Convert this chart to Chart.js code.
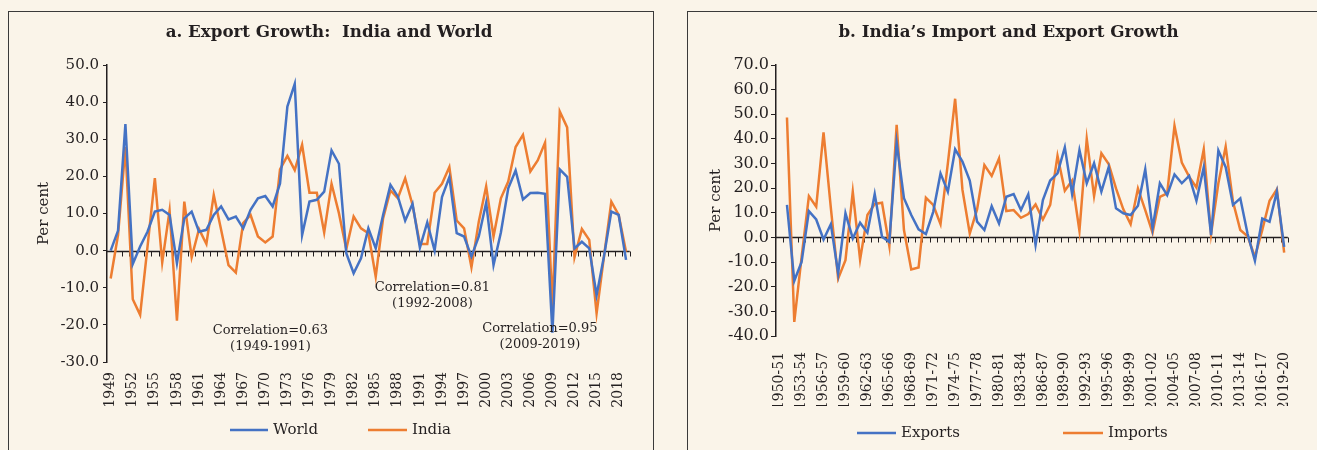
<!DOCTYPE html>
<html>
<head>
<meta charset="utf-8">
<title>Export Growth</title>
<script src="https://cdn.jsdelivr.net/npm/chart.js@4.4.0/dist/chart.umd.min.js"></script>
<style>
  html, body { margin: 0; padding: 0; background: #FAF4E9; }
  body { width: 1317px; height: 450px; position: relative; overflow: hidden; }
  .marco { position: absolute; top: 11px; height: 460px; border: 1.5px solid #3a3a3a; box-sizing: border-box; }
  #marcoA { left: 8px; width: 646px; }
  #marcoB { left: 687px; width: 660px; }
  canvas { position: absolute; top: 11px; }
  #graficaA { left: 8px; }
  #graficaB { left: 687px; }
</style>
</head>
<body>
<div class="marco" id="marcoA"></div>
<div class="marco" id="marcoB"></div>
<canvas id="graficaA" width="645" height="439"></canvas>
<canvas id="graficaB" width="630" height="439"></canvas>
<script>
// ---- Datos panel a: crecimiento de exportaciones, India y Mundo (%), 1949-2019
const anios = Array.from({ length: 71 }, (_, i) => String(1949 + i));
const mundo = [0.0, 5.4, 34.1, -3.6, 1.1, 5.1, 10.5, 11.0, 9.6, -3.4, 8.7, 10.5, 5.1, 5.6, 9.6, 11.9, 8.4, 9.2, 6.0, 11.0,
  14.1, 14.7, 11.9, 18.1, 38.8, 44.9, 4.2, 13.2, 13.7, 15.9, 27.0, 23.4, -0.7, -6.1, -2.1, 6.0, 0.6, 9.6, 17.7, 14.6,
  8.1, 12.6, 0.8, 7.6, 0.0, 14.4, 19.8, 4.7, 3.8, -1.6, 3.8, 12.9, -3.9, 4.9, 16.8, 21.6, 13.8, 15.5, 15.6, 15.3,
  -22.1, 21.9, 19.9, 0.6, 2.4, 0.6, -12.0, -1.6, 10.5, 9.6, -2.5];
const india = [-7.5, 4.2, 27.9, -13.1, -17.3, 1.0, 19.5, -3.2, 10.8, -18.9, 13.2, -1.8, 5.8, 1.8, 15.0, 5.6, -3.9, -5.9, 7.4, 9.6,
  3.8, 2.2, 3.8, 21.9, 25.5, 21.7, 28.5, 15.6, 15.6, 4.9, 18.0, 10.1, 0.4, 9.2, 6.0, 4.7, -7.0, 8.7, 16.2, 14.1,
  19.5, 12.3, 1.8, 1.8, 15.6, 18.0, 22.5, 8.1, 6.0, -4.5, 7.8, 17.3, 3.8, 14.1, 18.6, 27.9, 31.2, 21.3, 24.3, 29.1,
  -15.3, 37.5, 33.2, -1.8, 5.8, 2.9, -16.9, -1.6, 13.2, 9.6, -0.3];
const ticksA = { min: -30, max: 50, paso: 10 };

// ---- Datos panel b: crecimiento de importaciones y exportaciones de India (%), 1950-51 a 2019-20
const aniosFiscales = Array.from({ length: 70 }, (_, i) => {
  const a = 1950 + i;
  return a + '-' + String((a + 1) % 100).padStart(2, '0');
});
const exportaciones = [null, 13.2, -17.6, -9.9, 10.7, 7.3, -0.8, 5.4, -14.6, 9.8, -0.4, 6.0, 1.9, 17.6, 0.3, -1.8, 38.5, 15.9, 9.1, 3.3,
  1.4, 10.4, 26.0, 18.6, 35.8, 30.8, 23.1, 6.4, 3.0, 12.7, 5.7, 16.5, 17.6, 11.1, 17.5, -3.1, 15.2, 23.1, 26.0, 36.6,
  17.6, 35.5, 22.0, 30.1, 18.6, 28.5, 11.8, 9.8, 9.1, 12.9, 27.7, 3.7, 22.0, 17.2, 25.6, 22.0, 25.0, 14.9, 28.5, 0.9,
  35.3, 28.5, 13.2, 15.9, 1.4, -9.5, 7.7, 6.4, 18.6, -3.8];
const importaciones = [null, 48.7, -34.3, -8.0, 16.8, 12.5, 42.7, 12.0, -16.7, -9.2, 18.6, -9.0, 9.1, 13.6, 14.1, -3.5, 45.7, 3.0, -13.0, -12.2,
  16.1, 13.2, 5.4, 30.0, 56.3, 19.3, 1.6, 11.4, 29.4, 25.0, 32.1, 10.7, 11.1, 8.0, 9.5, 13.4, 7.3, 13.2, 33.1, 19.0,
  23.1, 2.7, 40.0, 16.8, 34.2, 29.8, 19.9, 11.4, 5.4, 19.9, 11.1, 1.9, 16.5, 17.9, 45.3, 30.4, 24.7, 20.3, 35.8, 1.4,
  22.0, 36.9, 14.5, 3.0, 0.5, -7.9, 3.0, 14.9, 19.5, -6.2];
const ticksB = { min: -40, max: 70, paso: 10 };

const AZUL = '#4472C4';
const NARANJA = '#ED7D31';
const TEXTO = '#231F20';
const FUENTE = '"DejaVu Serif", serif';

Chart.defaults.font.family = FUENTE;
Chart.defaults.color = TEXTO;

// Plugin para eje en cero con marcas, titulo, leyenda y notas
function crearDecoracion(cfg) {
  return {
    id: 'decoracion',
    beforeDatasetsDraw(chart) {
      const { ctx, chartArea, scales: { x, y } } = chart;
      const y0 = Math.round(y.getPixelForValue(0)) + 0.5;
      ctx.save();
      ctx.strokeStyle = TEXTO;
      ctx.lineWidth = 1.5;
      ctx.beginPath();
      ctx.moveTo(chartArea.left, y0);
      ctx.lineTo(chartArea.right, y0);
      ctx.stroke();
      ctx.lineWidth = 1;
      ctx.beginPath();
      const n = x.getLabels().length;
      for (let k = 1; k <= n; k++) {
        const px = Math.round(x.getPixelForValue(k - 0.5)) + 0.5;
        ctx.moveTo(px, y0);
        ctx.lineTo(px, y0 + 5);
      }
      ctx.stroke();
      ctx.restore();
    },
    afterDraw(chart) {
      const { ctx, scales: { x, y } } = chart;
      ctx.save();
      ctx.fillStyle = TEXTO;
      ctx.textBaseline = 'middle';

      // Titulo
      ctx.font = 'bold 16.7px ' + FUENTE;
      ctx.textAlign = 'center';
      ctx.fillText(cfg.titulo, cfg.tituloX, cfg.tituloY);

      // Notas de correlacion
      ctx.font = '13px ' + FUENTE;
      (cfg.notas || []).forEach(nota => {
        const px = x.getPixelForValue(nota.i);
        nota.lineas.forEach((linea, k) => {
          ctx.fillText(linea, px, y.getPixelForValue(nota.v[k]));
        });
      });

      // Leyenda
      ctx.font = '15px ' + FUENTE;
      ctx.textAlign = 'left';
      chart.data.datasets.forEach((ds, k) => {
        const item = cfg.leyenda[k];
        ctx.strokeStyle = ds.borderColor;
        ctx.lineWidth = 2.5;
        ctx.beginPath();
        ctx.moveTo(item.x1, cfg.leyendaY);
        ctx.lineTo(item.x2, cfg.leyendaY);
        ctx.stroke();
        ctx.fillText(ds.label, item.x2 + 5, cfg.leyendaY);
      });
      ctx.restore();
    }
  };
}

function crearGrafica(id, etiquetas, series, ejeY, disenio, decoracion) {
  const ctx = document.getElementById(id).getContext('2d');
  return new Chart(ctx, {
    type: 'line',
    data: {
      labels: etiquetas,
      datasets: series.map(s => ({
        label: s.nombre,
        data: s.datos,
        borderColor: s.color,
        backgroundColor: s.color,
        borderWidth: 2.5,
        pointRadius: 0,
        tension: 0,
        fill: false
      }))
    },
    options: {
      responsive: false,
      animation: false,
      layout: { padding: disenio.padding },
      plugins: {
        legend: { display: false },
        title: { display: false },
        tooltip: { enabled: false }
      },
      scales: {
        x: {
          type: 'category',
          offset: true,
          grid: { display: false, drawTicks: false },
          border: { display: false },
          ticks: {
            autoSkip: false,
            maxRotation: 90,
            minRotation: 90,
            padding: disenio.xPadding,
            font: { size: 14 },
            callback: (v, i) => (i % 3 === 0 ? etiquetas[i] : '')
          },
          afterFit: scale => { scale.height = disenio.altoX; }
        },
        y: {
          min: ejeY.min,
          max: ejeY.max,
          grid: { drawOnChartArea: false, drawTicks: true, tickLength: disenio.tickY, color: TEXTO, lineWidth: 1 },
          border: { display: true, color: TEXTO, width: 1.5 },
          ticks: {
            stepSize: ejeY.paso,
            padding: disenio.yPadding,
            font: { size: disenio.fuenteY },
            callback: v => v.toFixed(1)
          },
          title: {
            display: true,
            text: 'Per cent',
            font: { size: 15 },
            padding: { top: disenio.tituloY, bottom: 0 }
          },
          afterFit: scale => { scale.width = disenio.anchoY; }
        }
      }
    },
    plugins: [crearDecoracion(decoracion)]
  });
}

crearGrafica('graficaA', anios,
  [{ nombre: 'World', datos: mundo, color: AZUL }, { nombre: 'India', datos: india, color: NARANJA }],
  ticksA,
  { padding: { left: 0, right: 22, top: 54, bottom: 28 }, altoX: 60, anchoY: 99, xPadding: 10, tickY: 4, yPadding: 4, fuenteY: 15, tituloY: 27 },
  {
    titulo: 'a. Export Growth:  India and World', tituloX: 321, tituloY: 22,
    leyendaY: 419,
    leyenda: [{ x1: 222, x2: 260 }, { x1: 360, x2: 399 }],
    notas: [
      { lineas: ['Correlation=0.63', '(1949-1991)'], i: 21.7, v: [-21.6, -25.9] },
      { lineas: ['Correlation=0.81', '(1992-2008)'], i: 43.7, v: [-10.1, -14.4] },
      { lineas: ['Correlation=0.95', '(2009-2019)'], i: 58.3, v: [-20.9, -25.2] }
    ]
  });

crearGrafica('graficaB', aniosFiscales,
  [{ nombre: 'Exports', datos: exportaciones, color: AZUL }, { nombre: 'Imports', datos: importaciones, color: NARANJA }],
  ticksB,
  { padding: { left: 0, right: 3.5, top: 54, bottom: 44 }, altoX: 70, anchoY: 89, xPadding: 16, tickY: 5, yPadding: 2, fuenteY: 16, tituloY: 20 },
  {
    titulo: 'b. India\u2019s Import and Export Growth', tituloX: 321.5, tituloY: 22,
    leyendaY: 422,
    leyenda: [{ x1: 170, x2: 209 }, { x1: 376, x2: 416 }]
  });
</script>
</body>
</html>
